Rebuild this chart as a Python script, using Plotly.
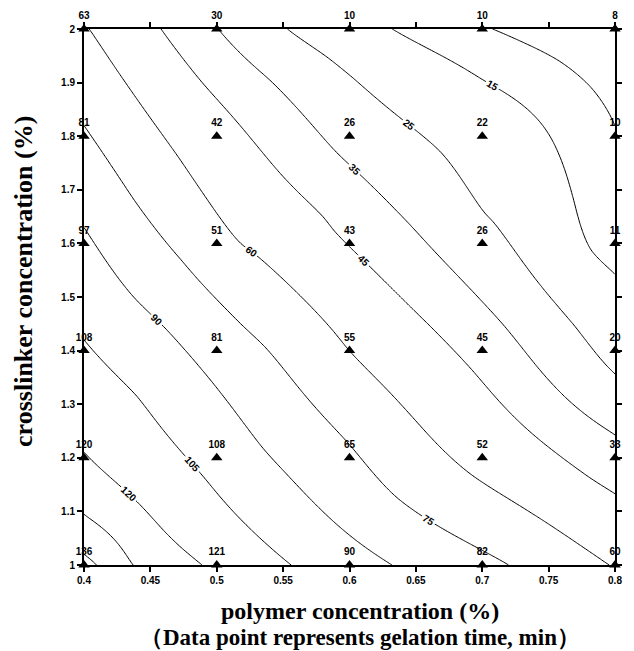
import numpy as np
import plotly.graph_objects as go

# ---- data ----
polymer = [0.4, 0.5, 0.6, 0.7, 0.8]            # x, %
crosslinker = [1.0, 1.2, 1.4, 1.6, 1.8, 2.0]   # y, %
# gelation time (min) at the data points, one row per crosslinker level (bottom -> top)
gel_y10 = [136, 121, 90, 82, 60]
gel_y12 = [120, 108, 65, 52, 33]
gel_y14 = [108, 81, 55, 45, 20]
gel_y16 = [97, 51, 43, 26, 11]
gel_y18 = [81, 42, 26, 22, 10]
gel_y20 = [63, 30, 10, 10, 8]
gel_rows = [gel_y10, gel_y12, gel_y14, gel_y16, gel_y18, gel_y20]

# fitted gelation-time surface:
# (polymer %, crosslinker %, gelation time)
surf_polymer = [0.708, 0.757, 0.782, 0.8,
                0.632, 0.701, 0.757, 0.769, 0.782, 0.8,
                0.553, 0.583, 0.603, 0.669, 0.702, 0.708, 0.77, 0.8,
                0.501, 0.540, 0.59, 0.633, 0.644, 0.717, 0.743, 0.8,
                0.458, 0.489, 0.536, 0.581, 0.588, 0.661, 0.693, 0.782, 0.8,
                0.404, 0.438, 0.470, 0.518, 0.529, 0.588, 0.6, 0.633, 0.692, 0.792,
                0.4, 0.438, 0.474, 0.52, 0.536, 0.6, 0.635, 0.72,
                0.4, 0.438, 0.46, 0.535, 0.551, 0.632,
                0.4, 0.44, 0.49, 0.556,
                0.4, 0.44, 0.489,
                0.4, 0.4365,
                0.41, 0.4]
surf_crosslinker = [2.0, 1.942, 1.891, 1.82,
                    2.0, 1.904, 1.77, 1.68, 1.586, 1.543,
                    2.0, 1.948, 1.908, 1.77, 1.655, 1.642, 1.445, 1.356,
                    2.0, 1.905, 1.77, 1.667, 1.639, 1.445, 1.365, 1.243,
                    2.0, 1.9, 1.765, 1.648, 1.624, 1.445, 1.362, 1.161, 1.133,
                    2.0, 1.876, 1.765, 1.599, 1.58, 1.436, 1.399, 1.315, 1.168, 1.006,
                    1.82, 1.68, 1.567, 1.445, 1.408, 1.225, 1.127, 1.0,
                    1.63, 1.498, 1.445, 1.217, 1.174, 1.0,
                    1.42, 1.315, 1.165, 1.0,
                    1.21, 1.118, 1.0,
                    1.094, 1.0,
                    1.0, 1.02]
surf_time = [10] * 4 + [15] * 6 + [25] * 8 + [35] * 8 + [45] * 9 + [60] * 10 + \
            [75] * 8 + [90] * 6 + [105] * 4 + [120] * 3 + [135] * 2 + [150] * 2

contour_levels = [10, 15, 25, 35, 45, 60, 75, 90, 105, 120, 135, 150]
labelled_levels = [15, 25, 35, 45, 60, 75, 90, 105, 120, 135]
x_ticks = [0.4, 0.45, 0.5, 0.55, 0.6, 0.65, 0.7, 0.75, 0.8]
x_ticktext = ["0.4", "0.45", "0.5", "0.55", "0.6", "0.65", "0.7", "0.75", "0.8"]
y_ticks = [1.0, 1.1, 1.2, 1.3, 1.4, 1.5, 1.6, 1.7, 1.8, 1.9, 2.0]
y_ticktext = ["1", "1.1", "1.2", "1.3", "1.4", "1.5", "1.6", "1.7", "1.8", "1.9", "2"]

# ---- smooth surface through the read values (thin-plate spline) ----
su = (np.array(surf_polymer) - 0.4) / 0.4
sv = (np.array(surf_crosslinker) - 1.0) / 1.0
sz = np.array(surf_time, dtype=float)


def kern(r):
    with np.errstate(divide="ignore", invalid="ignore"):
        k = r * r * np.log(r)
    return np.where(r > 0, k, 0.0)


n = len(su)
D = np.hypot(su[:, None] - su[None, :], sv[:, None] - sv[None, :])
P = np.column_stack([np.ones(n), su, sv])
A = np.zeros((n + 3, n + 3))
A[:n, :n] = kern(D) + 5e-4 * np.eye(n)
A[:n, n:] = P
A[n:, :n] = P.T
sol = np.linalg.solve(A, np.concatenate([sz, np.zeros(3)]))
w, a = sol[:n], sol[n:]

gx = np.linspace(0.4, 0.8, 201)
gy = np.linspace(1.0, 2.0, 201)
GU, GV = np.meshgrid((gx - 0.4) / 0.4, (gy - 1.0) / 1.0)
Dg = np.hypot(GU.ravel()[:, None] - su[None, :], GV.ravel()[:, None] - sv[None, :])
GZ = (kern(Dg) @ w + a[0] + a[1] * GU.ravel() + a[2] * GV.ravel()).reshape(GU.shape)

fig = go.Figure()
for lvl in contour_levels:
    fig.add_trace(go.Contour(
        x=gx, y=gy, z=GZ,
        autocontour=False,
        contours=dict(start=lvl, end=lvl, size=1, coloring="none",
                      showlabels=lvl in labelled_levels,
                      labelfont=dict(family="Arial", size=10, color="black", weight="bold")),
        line=dict(color="black", width=1),
        showscale=False, hoverinfo="skip",
    ))

px, py, pt = [], [], []
for yi, row in zip(crosslinker, gel_rows):
    for xi, val in zip(polymer, row):
        px.append(xi)
        py.append(yi)
        pt.append(str(val))

fig.add_trace(go.Scatter(
    x=px, y=py, mode="markers+text", text=pt, textposition="top center",
    marker=dict(symbol="triangle-up", size=10, color="black"),
    textfont=dict(family="Arial", size=10, color="black", weight="bold"),
    cliponaxis=False, showlegend=False, hoverinfo="skip",
))

axis_common = dict(showline=True, linewidth=2, linecolor="black", mirror="ticks",
                   ticks="outside", ticklen=5, tickwidth=1.5, tickcolor="black",
                   showgrid=False, zeroline=False,
                   tickfont=dict(family="Arial", size=10, color="black", weight="bold"))

fig.update_layout(
    width=634, height=651,
    margin=dict(l=84, r=13, t=29, b=86),
    paper_bgcolor="white", plot_bgcolor="white",
    showlegend=False,
    xaxis=dict(range=[0.4, 0.8], tickvals=x_ticks, ticktext=x_ticktext, **axis_common),
    yaxis=dict(range=[1.0, 2.0], tickvals=y_ticks, ticktext=y_ticktext, **axis_common),
    annotations=[
        dict(text="polymer concentration (%)", xref="paper", yref="paper",
             x=0.52, y=-0.085, xanchor="center", yanchor="middle", showarrow=False,
             font=dict(family="Liberation Serif", size=24, color="black", weight="bold")),
        dict(text="（Data point represents gelation time, min）", xref="paper", yref="paper",
             x=0.52, y=-0.136, xanchor="center", yanchor="middle", showarrow=False,
             font=dict(family="Liberation Serif", size=23, color="black", weight="bold")),
        dict(text="crosslinker concentration (%)", xref="paper", yref="paper",
             x=-0.113, y=0.53, xanchor="center", yanchor="middle", textangle=-90,
             showarrow=False,
             font=dict(family="Liberation Serif", size=26, color="black", weight="bold")),
    ],
)

fig.write_html("out.html")
